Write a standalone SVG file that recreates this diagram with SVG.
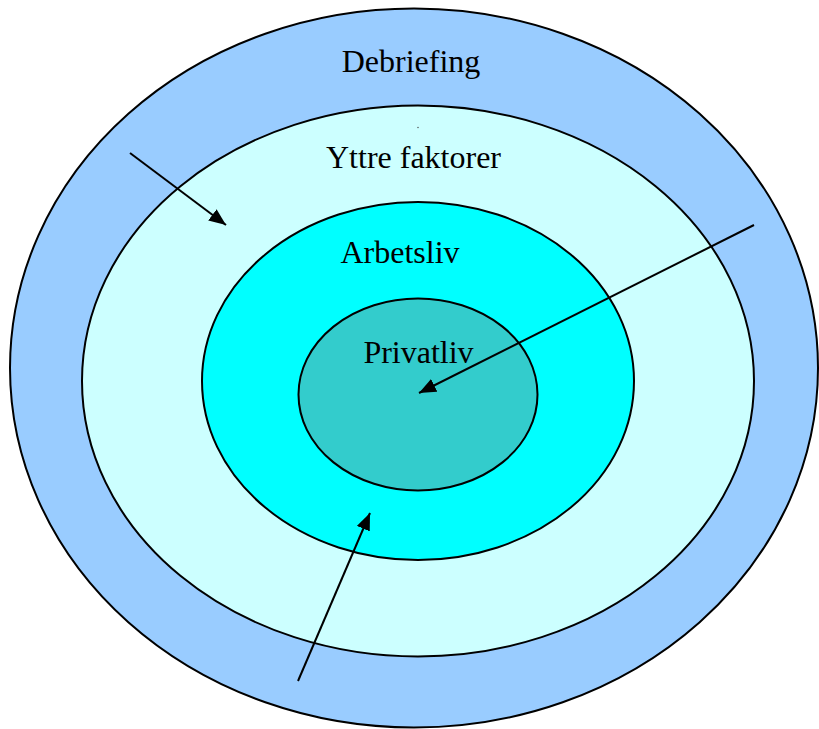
<svg xmlns="http://www.w3.org/2000/svg" width="819" height="729" viewBox="0 0 819 729">
<style>
.ring{stroke:#000;stroke-width:2}
.lbl{font-family:"Liberation Serif","Times New Roman",serif;font-size:32px;fill:#000;text-anchor:middle}
.arr{stroke:#000;stroke-width:2;fill:none;marker-end:url(#ah)}
</style>
<defs>
<marker id="ah" markerUnits="userSpaceOnUse" markerWidth="17" markerHeight="14" refX="17" refY="7" orient="auto" viewBox="0 0 17 14">
<path d="M0,0 L17,7 L0,14 z" fill="#000"/>
</marker>
</defs>
<rect width="819" height="729" fill="#fff"/>
<g id="debriefing">
<ellipse class="ring" cx="414" cy="368" rx="404" ry="359.5" fill="#99CCFF"/>
<text class="lbl" x="411" y="72">Debriefing</text>
</g>
<g id="yttre">
<ellipse class="ring" cx="418" cy="381" rx="336" ry="275.5" fill="#CCFFFF"/>
<text class="lbl" x="413.5" y="168">Yttre faktorer</text>
<circle cx="418" cy="127.5" r="0.7" fill="#444"/>
</g>
<g id="arbetsliv">
<ellipse class="ring" cx="418" cy="381" rx="216" ry="179" fill="#00FFFF"/>
<text class="lbl" x="400" y="263">Arbetsliv</text>
</g>
<g id="privatliv">
<ellipse class="ring" cx="418" cy="394.5" rx="119.5" ry="96" fill="#33CCCC"/>
<text class="lbl" x="418.5" y="363">Privatliv</text>
</g>
<g id="connectors">
<line class="arr" x1="130" y1="153" x2="226" y2="225"/>
<line class="arr" x1="754" y1="225" x2="419" y2="393"/>
<line class="arr" x1="298" y1="681" x2="370" y2="513"/>
</g>
</svg>
